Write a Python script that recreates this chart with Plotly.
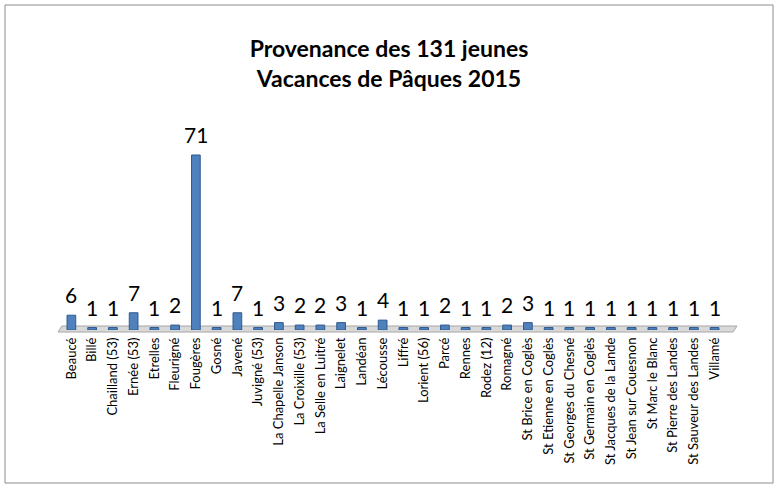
import plotly.graph_objects as go

communes = ["Beaucé", "Billé", "Chailland (53)", "Ernée (53)", "Etrelles", "Fleurigné",
            "Fougères", "Gosné", "Javené", "Juvigné (53)", "La Chapelle Janson",
            "La Croixille (53)", "La Selle en Luitré", "Laignelet", "Landéan", "Lécousse",
            "Liffré", "Lorient (56)", "Parcé", "Rennes", "Rodez (12)", "Romagné",
            "St Brice en Coglès", "St Etienne en Coglès", "St Georges du Chesné",
            "St Germain en Coglès", "St Jacques de la Lande", "St Jean sur Couesnon",
            "St Marc le Blanc", "St Pierre des Landes", "St Sauveur des Landes", "Villamé"]
jeunes = [6, 1, 1, 7, 1, 2, 71, 1, 7, 1, 3, 2, 2, 3, 1, 4,
          1, 1, 2, 1, 1, 2, 3, 1, 1, 1, 1, 1, 1, 1, 1, 1]

W, H = 779, 490
ml, mr, mt, mb = 61, 54, 140, 160
pw = W - ml - mr
ph = H - mt - mb

def px_x(p):
    return (p - ml) / pw

def px_y(p):
    return (H - mb - p) / ph

fig = go.Figure(go.Bar(
    x=communes, y=jeunes,
    width=0.42,
    marker=dict(color="#4F81BD", line=dict(color="#2F5A8F", width=1)),
    cliponaxis=False,
    hoverinfo="x+y",
))

annotations = [
    dict(x=c, y=v, xref="x", yref="y", text=str(v), showarrow=False,
         xanchor="center", yanchor="bottom", yshift=6,
         font=dict(family="Lato, Open Sans, sans-serif", size=21, color="#000000"))
    for c, v in zip(communes, jeunes)
]

shapes = [
    # outer chart border
    dict(type="rect", xref="paper", yref="paper",
         x0=px_x(5), x1=px_x(773), y0=px_y(483), y1=px_y(5),
         line=dict(color="#8C8C8C", width=1), fillcolor="rgba(0,0,0,0)", layer="below"),
    # 3D floor slab
    dict(type="path", xref="paper", yref="paper",
         path=(f"M {px_x(62)} {px_y(326)} L {px_x(737)} {px_y(326)} "
               f"L {px_x(733)} {px_y(332)} L {px_x(58)} {px_y(332)} Z"),
         line=dict(color="#A6A6A6", width=1), fillcolor="#D9D9D9", layer="below"),
]

fig.update_layout(
    width=W, height=H,
    margin=dict(l=ml, r=mr, t=mt, b=mb),
    paper_bgcolor="white", plot_bgcolor="white",
    showlegend=False,
    title=dict(text="<b>Provenance des 131 jeunes<br>Vacances de Pâques 2015</b>",
               x=px_x(389), xref="paper", xanchor="center", y=1 - 57 / H, yanchor="middle",
               font=dict(family="Lato, Open Sans, sans-serif", size=23, color="#000000")),
    xaxis=dict(tickangle=-90, showgrid=False, zeroline=False, showline=False,
               ticks="", ticklabelstandoff=4,
               tickfont=dict(family="Lato, Open Sans, sans-serif", size=13, color="#000000"),
               range=[-0.5, len(communes) - 0.5]),
    yaxis=dict(visible=False, range=[0, 71 * ph / 175]),
    annotations=annotations,
    shapes=shapes,
)

fig.write_html("out.html", config={"displayModeBar": False},
               post_script="document.body.style.margin='0';document.body.style.overflow='hidden';")
